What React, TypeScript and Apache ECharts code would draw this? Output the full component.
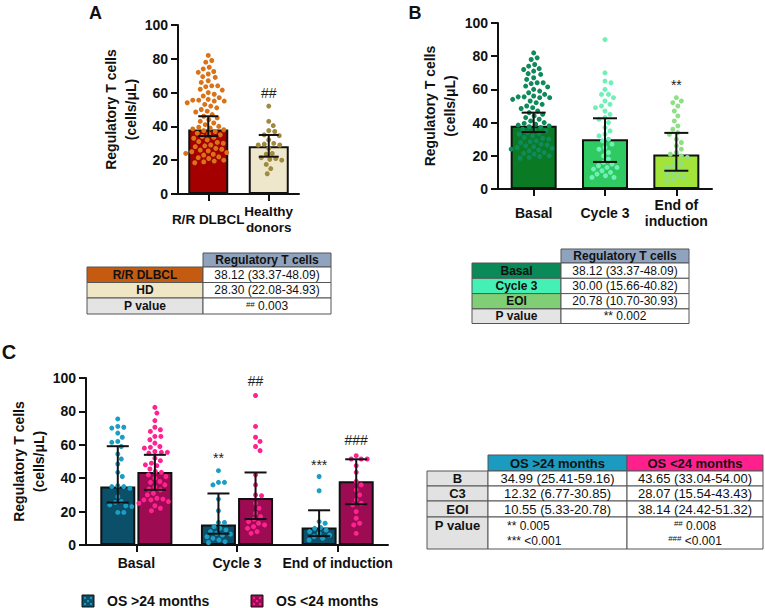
import React, { useEffect, useRef } from "react";
import * as echarts from "echarts";

const FONT = "'Liberation Sans', Arial, Helvetica, sans-serif";
const INK = "#111111";
const BORDER = "#555555";

// ---------------- Panel A data ----------------
const aCategories = ["R/R DLBCL", "Healthy\ndonors"];
const aMedians = [38.12, 28.3];
const aLower = [34.3, 22.08];
const aUpper = [46.0, 34.93];
const aRRDots = [
  82, 79, 78, 75, 74, 72.5, 72, 71, 69.5, 69, 67, 66, 64, 64, 63.5, 62, 61.5, 60, 59, 58,
  57, 56, 55.5, 55.5, 55, 55, 54, 53, 52, 51, 50, 49, 48.5, 47, 46, 45, 44, 43, 42, 41,
  40, 39.5, 39, 38.5, 38, 37.5, 37, 36, 35.5, 35, 34, 33.5, 33, 32, 31, 30.5, 30, 29, 28.5,
  28, 27, 26.5, 26, 25.5, 25, 24.5, 24, 23.5, 23, 22, 21.5, 21, 20, 19.5, 19, 18.5,
];
const aHDDots = [52, 43, 40.5, 37.5, 37, 35, 34.5, 32, 30, 29.5, 29, 29, 27, 24, 23.5, 21.5, 21, 20.5, 20, 17.5, 15, 12];
const aMarks = ["##"];
const aMarkCats = [1];
const aMarkValues = [59.8];

// ---------------- Panel B data ----------------
const bCategories = ["Basal", "Cycle 3", "End of\ninduction"];
const bMedians = [38.12, 30.0, 20.78];
const bLower = [34.3, 16.3, 11.0];
const bUpper = [46.0, 42.6, 33.8];
const bBasalDots = aRRDots;
const bCycle3Dots = [
  90, 70, 65, 64, 60, 57, 57, 55, 53, 51, 50, 49, 47, 45, 43, 42, 40, 37, 35, 33, 32, 30,
  29, 27, 25, 24, 22, 20, 18, 16, 15, 14, 13, 13, 12, 11, 10, 9, 8, 7, 7,
];
const bEOIDots = [55, 53, 52, 50, 47, 44, 41, 38, 36, 34, 33, 30, 28, 26, 24, 22, 21, 20, 19, 17, 15, 14, 13, 12, 11, 10, 9, 8, 7, 6, 5];
const bMarks = ["**"];
const bMarkCats = [2];
const bMarkValues = [62.6];

// ---------------- Panel C data ----------------
const cCategories = ["Basal", "Cycle 3", "End of induction"];
const cSeriesNames = ["OS >24 months", "OS <24 months"];
const cLongMedians = [34.99, 12.32, 10.55];
const cLongLower = [25.41, 6.77, 5.33];
const cLongUpper = [59.16, 30.85, 20.78];
const cShortMedians = [43.65, 28.07, 38.14];
const cShortLower = [33.04, 15.54, 24.42];
const cShortUpper = [54.0, 43.43, 51.32];
const cLongBasalDots = [75.5, 71, 70.5, 70, 67, 64.5, 62, 61.5, 59, 54.5, 51.5, 48.5, 43.5, 41, 35.5, 35, 35, 34, 29, 26, 25.5, 24, 23.5, 23, 19.5, 19.5];
const cShortBasalDots = [
  82.4, 79, 74.5, 70.5, 69, 68, 65, 65, 63, 61, 59, 58.5, 58, 56, 55.5, 55.5, 55, 52, 50.5, 49,
  48, 47.5, 45.5, 44, 43.5, 42, 41, 40, 38, 37.5, 36, 34.5, 33.5, 33, 31, 30, 28, 27.5, 27, 27,
  26, 25, 23.5, 22, 20.5,
];
const cLongC3Dots = [44.5, 37.5, 37.5, 36, 27.5, 20.5, 13.5, 13.5, 11, 10, 9, 8, 7, 6.5, 6, 5, 4, 3, 2, 1.5];
const cShortC3Dots = [89.5, 71, 64.5, 62, 59, 56.5, 42, 36, 30, 29.5, 25, 22, 19, 17, 15.5, 14, 13, 12, 11, 10, 8, 7];
const cLongEOIDots = [41, 32.5, 14, 13, 10.5, 10, 9, 8, 7, 6, 5, 4, 3];
const cShortEOIDots = [53.5, 51.5, 51.5, 51.5, 47.5, 43.5, 38, 36, 33, 30, 27, 25, 24, 20, 16, 13, 12, 7];
const cLongMarks = ["**", "***"];
const cLongMarkCats = [1, 2];
const cLongMarkValues = [52, 48];
const cShortMarks = ["##", "###"];
const cShortMarkCats = [1, 2];
const cShortMarkValues = [98.5, 63];

// ---------------- Tables ----------------
const tableAHeader = "Regulatory T cells";
const tableARows = ["R/R DLBCL", "HD", "P value"];
const tableAValues = ["38.12 (33.37-48.09)", "28.30 (22.08-34.93)"];
const tableAPMark = "##";
const tableAP = "0.003";

const tableBHeader = "Regulatory T cells";
const tableBRows = ["Basal", "Cycle 3", "EOI", "P value"];
const tableBValues = ["38.12 (33.37-48.09)", "30.00 (15.66-40.82)", "20.78 (10.70-30.93)", "** 0.002"];

const tableCHeaders = ["OS >24 months", "OS <24 months"];
const tableCRows = ["B", "C3", "EOI", "P value"];
const tableCLong = ["34.99 (25.41-59.16)", "12.32 (6.77-30.85)", "10.55 (5.33-20.78)"];
const tableCShort = ["43.65 (33.04-54.00)", "28.07 (15.54-43.43)", "38.14 (24.42-51.32)"];
const tableCLongP = ["** 0.005", "*** <0.001"];
const tableCShortPMarks = ["##", "###"];
const tableCShortP = ["0.008", "<0.001"];

// ---------------- Styles ----------------
const aBarColors = ["#a40000", "#efe7cc"];
const aDotColors = ["#d9731a", "#a08a40"];
const bBarColors = ["#0b7a25", "#2fcb62", "#a2e43a"];
const bDotColors = ["#0f8a5a", "#6ff0b6", "#8fdf86"];
const cBarColors = ["#0b4f69", "#9d0b52"];
const cDotColors = ["#1c9dc4", "#ff2291"];

const GA = { left: 178, top: 25, width: 121, height: 169 };
const GB = { left: 498, top: 23, width: 214, height: 166 };
const GC = { left: 86, top: 378, width: 302, height: 167 };
const C_BAR_W = 35;
const C_GAP = 0.06;

function swarm(values: number[], center: number, pxPerUnit: number, catPx: number, minDist: number): number[][] {
  const placed: { x: number; y: number }[] = [];
  const out: number[][] = [];
  const sorted = [...values].sort((a, b) => b - a);
  for (const v of sorted) {
    const y = v * pxPerUnit;
    let chosen = 0;
    for (let k = 0; k < 600; k++) {
      const cand = k === 0 ? 0 : (k % 2 === 1 ? 1 : -1) * Math.ceil(k / 2) * 0.5;
      let ok = true;
      for (const p of placed) {
        const dx = cand - p.x;
        const dy = y - p.y;
        if (dx * dx + dy * dy < minDist * minDist) {
          ok = false;
          break;
        }
      }
      if (ok) {
        chosen = cand;
        break;
      }
    }
    placed.push({ x: chosen, y });
    out.push([center + chosen / catPx, v]);
  }
  return out;
}

function errRender(half: number) {
  return (_params: any, api: any) => {
    const x = api.value(0);
    const lo = api.value(1);
    const hi = api.value(2);
    const a = api.coord([x, lo]);
    const b = api.coord([x, hi]);
    const st = { stroke: INK, lineWidth: 2 };
    return {
      type: "group",
      children: [
        { type: "line", shape: { x1: a[0], y1: a[1], x2: b[0], y2: b[1] }, style: st },
        { type: "line", shape: { x1: a[0] - half, y1: a[1], x2: a[0] + half, y2: a[1] }, style: st },
        { type: "line", shape: { x1: b[0] - half, y1: b[1], x2: b[0] + half, y2: b[1] }, style: st },
      ],
    };
  };
}

function textRender(labels: string[]) {
  return (params: any, api: any) => {
    const p = api.coord([api.value(0), api.value(1)]);
    return {
      type: "text",
      x: p[0],
      y: p[1],
      style: {
        text: labels[params.dataIndex],
        fontFamily: FONT,
        fontSize: 14,
        fill: "#222",
        align: "center",
        verticalAlign: "middle",
      },
    };
  };
}

function yAxis(gridIndex: number, nameGap: number) {
  return {
    gridIndex,
    type: "value",
    min: 0,
    max: 100,
    interval: 20,
    axisLine: { show: true, onZero: false, lineStyle: { color: INK, width: 2 } },
    axisTick: { show: true, length: 7, lineStyle: { color: INK, width: 2 } },
    axisLabel: { color: INK, fontFamily: FONT, fontWeight: "bold", fontSize: 14, margin: 10 },
    splitLine: { show: false },
    name: "Regulatory T cells\n(cells/μL)",
    nameLocation: "middle",
    nameGap,
    nameTextStyle: { color: INK, fontFamily: FONT, fontWeight: "bold", fontSize: 14, lineHeight: 20 },
  };
}

function catAxis(gridIndex: number, data: string[], margin: number, fontSize: number) {
  return {
    gridIndex,
    type: "category",
    data,
    axisLine: { show: true, onZero: false, lineStyle: { color: INK, width: 2 } },
    axisTick: { show: true, alignWithLabel: true, length: 7, lineStyle: { color: INK, width: 2 } },
    axisLabel: {
      interval: 0,
      color: INK,
      fontFamily: FONT,
      fontWeight: "bold",
      fontSize,
      lineHeight: 16,
      margin,
      verticalAlign: "middle",
    },
    splitLine: { show: false },
  };
}

function valAxis(gridIndex: number, n: number) {
  return { gridIndex, type: "value", min: -0.5, max: n - 0.5, show: false, axisLine: { onZero: false } };
}

function buildGraphic() {
  const g: any[] = [];
  const rect = (x: number, y: number, w: number, h: number, fill: string) =>
    g.push({ type: "rect", shape: { x, y, width: w, height: h }, style: { fill, stroke: BORDER, lineWidth: 1 }, z: 1 });
  const text = (x: number, y: number, t: string, size: number, bold: boolean, align = "center", extra: any = {}) =>
    g.push({
      type: "text",
      x,
      y,
      style: {
        text: t,
        fontFamily: FONT,
        fontSize: size,
        fontWeight: bold ? "bold" : "normal",
        fill: INK,
        align,
        verticalAlign: "middle",
        textAlign: align,
        textVerticalAlign: "middle",
        ...extra,
      },
      z: 2,
    });
  const sup = { rich: { s: { fontSize: 8, fontFamily: FONT, fill: INK, verticalAlign: "top" } } };

  // panel letters
  text(95.5, 13, "A", 18, true);
  text(415, 13, "B", 18, true);
  text(9, 352, "C", 20, true);

  // ---- Table A ----
  {
    const x0 = 87, x1 = 203, x2 = 331;
    const hy0 = 253, hy1 = 267;
    const bounds = [267, 282.5, 298, 314];
    const fills = ["#c55a11", "#efe6c6", "#e4e4e4"];
    rect(x1, hy0, x2 - x1, hy1 - hy0, "#8fa2be");
    text((x1 + x2) / 2, (hy0 + hy1) / 2, tableAHeader, 12, true);
    for (let i = 0; i < tableARows.length; i++) {
      const r0 = bounds[i], r1 = bounds[i + 1];
      rect(x0, r0, x1 - x0, r1 - r0, fills[i]);
      rect(x1, r0, x2 - x1, r1 - r0, "#ffffff");
      text((x0 + x1) / 2, (r0 + r1) / 2, tableARows[i], 12, true);
      if (i < tableAValues.length) text((x1 + x2) / 2, (r0 + r1) / 2, tableAValues[i], 12, false);
      else text((x1 + x2) / 2, (r0 + r1) / 2, "{s|" + tableAPMark + "} " + tableAP, 12, false, "center", sup);
    }
  }

  // ---- Table B ----
  {
    const x0 = 472, x1 = 561, x2 = 689;
    const hy0 = 249, hy1 = 263;
    const bounds = [263, 278.3, 293.6, 308.9, 323.5];
    const fills = ["#0a8a58", "#45f0b5", "#80cf76", "#e4e4e4"];
    rect(x1, hy0, x2 - x1, hy1 - hy0, "#8fa2be");
    text((x1 + x2) / 2, (hy0 + hy1) / 2, tableBHeader, 12, true);
    for (let i = 0; i < tableBRows.length; i++) {
      const r0 = bounds[i], r1 = bounds[i + 1];
      rect(x0, r0, x1 - x0, r1 - r0, fills[i]);
      rect(x1, r0, x2 - x1, r1 - r0, "#ffffff");
      text((x0 + x1) / 2, (r0 + r1) / 2, tableBRows[i], 12, true);
      text((x1 + x2) / 2, (r0 + r1) / 2, tableBValues[i], 12, false);
    }
  }

  // ---- Table C ----
  {
    const x0 = 427, x1 = 488, x2 = 627, x3 = 763;
    const hy0 = 455, hy1 = 471;
    const bounds = [471, 486, 501, 517, 549];
    rect(x1, hy0, x2 - x1, hy1 - hy0, "#1b9bc0");
    rect(x2, hy0, x3 - x2, hy1 - hy0, "#ff208e");
    text((x1 + x2) / 2, (hy0 + hy1) / 2, tableCHeaders[0], 13, true);
    text((x2 + x3) / 2, (hy0 + hy1) / 2, tableCHeaders[1], 13, true);
    for (let i = 0; i < tableCRows.length; i++) {
      const r0 = bounds[i], r1 = bounds[i + 1];
      rect(x0, r0, x1 - x0, r1 - r0, "#e2e2e2");
      rect(x1, r0, x2 - x1, r1 - r0, "#ffffff");
      rect(x2, r0, x3 - x2, r1 - r0, "#ffffff");
      const cy = i < 3 ? (r0 + r1) / 2 : r0 + 8.5;
      text((x0 + x1) / 2, cy, tableCRows[i], 13, true);
      if (i < 3) {
        text((x1 + x2) / 2, cy, tableCLong[i], 13, false);
        text((x2 + x3) / 2, cy, tableCShort[i], 13, false);
      } else {
        for (let k = 0; k < tableCLongP.length; k++) {
          const ly = r0 + 8.5 + k * 15;
          text(507, ly, tableCLongP[k], 12, false, "left");
          text((x2 + x3) / 2, ly, "{s|" + tableCShortPMarks[k] + "} " + tableCShortP[k], 12, false, "center", sup);
        }
      }
    }
  }

  // ---- Legend ----
  const legendX = [82, 251];
  for (let i = 0; i < 2; i++) {
    const lx = legendX[i];
    g.push({ type: "rect", shape: { x: lx, y: 595, width: 12, height: 12 }, style: { fill: cBarColors[i], stroke: INK, lineWidth: 1 }, z: 1 });
    const pts = [[3, 3], [9, 3], [6, 6], [3, 9], [9, 9]];
    for (const p of pts)
      g.push({ type: "circle", shape: { cx: lx + p[0], cy: 595 + p[1], r: 1.2 }, style: { fill: cDotColors[i] }, z: 2 });
    text(lx + 25, 601, cSeriesNames[i], 14, true, "left");
  }
  return g;
}

function buildOption() {
  const aPx = GA.height / 100, aCat = GA.width / aCategories.length;
  const bPx = GB.height / 100, bCat = GB.width / bCategories.length;
  const cPx = GC.height / 100, cCat = GC.width / cCategories.length;
  const cOff = ((C_BAR_W + C_BAR_W * C_GAP) / 2) / cCat;
  const dot = 5;
  const dist = 6;

  const scatter = (xi: number, yi: number, data: number[][], color: string) => ({
    type: "scatter",
    xAxisIndex: xi,
    yAxisIndex: yi,
    data,
    symbolSize: dot,
    itemStyle: { color, opacity: 1 },
    z: 3,
    silent: true,
  });
  const errors = (xi: number, yi: number, data: number[][], half: number) => ({
    type: "custom",
    xAxisIndex: xi,
    yAxisIndex: yi,
    data,
    encode: { x: 0, y: [1, 2] },
    renderItem: errRender(half),
    z: 4,
    silent: true,
  });
  const marks = (xi: number, yi: number, data: number[][], labels: string[]) => ({
    type: "custom",
    xAxisIndex: xi,
    yAxisIndex: yi,
    data,
    encode: { x: 0, y: 1 },
    renderItem: textRender(labels),
    z: 5,
    silent: true,
  });

  const series: any[] = [];
  // A
  series.push({
    type: "bar",
    xAxisIndex: 0,
    yAxisIndex: 0,
    barWidth: 40,
    data: aMedians.map((v, i) => ({ value: v, itemStyle: { color: aBarColors[i] } })),
    itemStyle: { borderColor: INK, borderWidth: 2 },
    z: 2,
    silent: true,
  });
  series.push(scatter(1, 0, swarm(aRRDots, 0, aPx, aCat, dist), aDotColors[0]));
  series.push(scatter(1, 0, swarm(aHDDots, 1, aPx, aCat, dist), aDotColors[1]));
  series.push(errors(1, 0, aMedians.map((_, i) => [i, aLower[i], aUpper[i]]), 10));
  series.push(marks(1, 0, aMarkCats.map((c, i) => [c, aMarkValues[i]]), aMarks));

  // B
  series.push({
    type: "bar",
    xAxisIndex: 2,
    yAxisIndex: 1,
    barWidth: 46,
    data: bMedians.map((v, i) => ({ value: v, itemStyle: { color: bBarColors[i] } })),
    itemStyle: { borderColor: INK, borderWidth: 2 },
    z: 2,
    silent: true,
  });
  [bBasalDots, bCycle3Dots, bEOIDots].forEach((arr, i) =>
    series.push(scatter(3, 1, swarm(arr, i, bPx, bCat, dist), bDotColors[i]))
  );
  series.push(errors(3, 1, bMedians.map((_, i) => [i, bLower[i], bUpper[i]]), 12));
  series.push(marks(3, 1, bMarkCats.map((c, i) => [c, bMarkValues[i]]), bMarks));

  // C
  [cLongMedians, cShortMedians].forEach((arr, k) =>
    series.push({
      type: "bar",
      name: cSeriesNames[k],
      xAxisIndex: 4,
      yAxisIndex: 2,
      barWidth: C_BAR_W,
      barGap: C_GAP * 100 + "%",
      data: arr,
      itemStyle: { color: cBarColors[k], borderColor: INK, borderWidth: 2 },
      z: 2,
      silent: true,
    })
  );
  const longDots = [cLongBasalDots, cLongC3Dots, cLongEOIDots];
  const shortDots = [cShortBasalDots, cShortC3Dots, cShortEOIDots];
  longDots.forEach((arr, i) => series.push(scatter(5, 2, swarm(arr, i - cOff, cPx, cCat, dist), cDotColors[0])));
  shortDots.forEach((arr, i) => series.push(scatter(5, 2, swarm(arr, i + cOff, cPx, cCat, dist), cDotColors[1])));
  series.push(errors(5, 2, cLongMedians.map((_, i) => [i - cOff, cLongLower[i], cLongUpper[i]]), 11));
  series.push(errors(5, 2, cShortMedians.map((_, i) => [i + cOff, cShortLower[i], cShortUpper[i]]), 11));
  series.push(marks(5, 2, cLongMarkCats.map((c, i) => [c - cOff, cLongMarkValues[i]]), cLongMarks));
  series.push(marks(5, 2, cShortMarkCats.map((c, i) => [c + cOff, cShortMarkValues[i]]), cShortMarks));

  return {
    animation: false,
    backgroundColor: "#ffffff",
    textStyle: { fontFamily: FONT },
    grid: [
      { ...GA, containLabel: false },
      { ...GB, containLabel: false },
      { ...GC, containLabel: false },
    ],
    xAxis: [
      catAxis(0, aCategories, 25, 13.5),
      valAxis(0, aCategories.length),
      catAxis(1, bCategories, 24, 14),
      valAxis(1, bCategories.length),
      catAxis(2, cCategories, 18, 14),
      valAxis(2, cCategories.length),
    ],
    yAxis: [yAxis(0, 36), yAxis(1, 38), yAxis(2, 31)],
    series,
    graphic: { elements: buildGraphic() },
  };
}

export default function App() {
  const ref = useRef<HTMLDivElement>(null);
  useEffect(() => {
    if (!ref.current) return;
    const chart = echarts.init(ref.current, undefined, { renderer: "svg" });
    chart.setOption(buildOption() as any);
    return () => chart.dispose();
  }, []);
  return (
    <div
      ref={ref}
      style={{ position: "fixed", left: 0, top: 0, width: 765, height: 608, background: "#ffffff" }}
    />
  );
}
